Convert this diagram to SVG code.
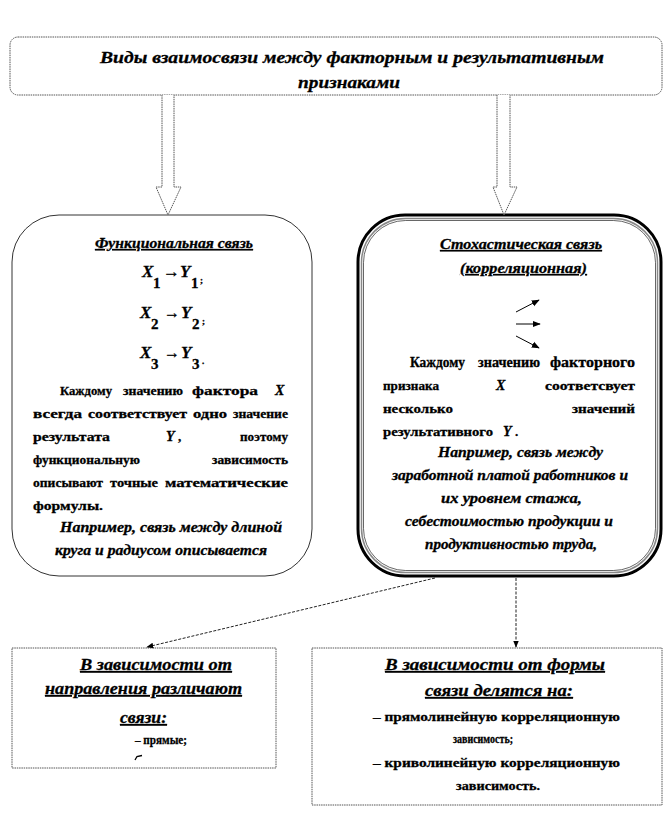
<svg xmlns="http://www.w3.org/2000/svg" width="672" height="816" viewBox="0 0 672 816">
<defs>
<style>
text{font-weight:bold;font-size:13px;fill:#000;stroke:#000;stroke-width:0.3}
.i{font-style:italic}
.u{text-decoration:underline}
.h{font-size:17px}
.f14{font-size:14px}
.xv{font-size:17px}
.sub{font-size:15px}
.arr{font-size:16px}
.semi{font-size:9px}
.box{fill:#fff;stroke:#555;stroke-width:1;stroke-dasharray:1.5 0.8}
.blk{fill:#fff;stroke:#555;stroke-width:1;stroke-dasharray:1.5 0.8}
.con{fill:none;stroke:#222;stroke-width:1;stroke-dasharray:3 1.5}
.sm{fill:none;stroke:#000;stroke-width:1}
</style>
<marker id="ah" viewBox="0 0 10 10" refX="9" refY="5" markerWidth="7" markerHeight="7" orient="auto" markerUnits="userSpaceOnUse">
<path d="M0,1 L10,5 L0,9 Z" fill="#000"/>
</marker>
<marker id="ahs" viewBox="0 0 10 10" refX="9" refY="5" markerWidth="8" markerHeight="8" orient="auto" markerUnits="userSpaceOnUse">
<path d="M0,1 L10,5 L0,9 Z" fill="#000"/>
</marker>
</defs>
<rect width="672" height="816" fill="#fff"/>
<g font-family="'Liberation Serif', 'DejaVu Serif', 'Times New Roman', serif">

<g id="title">
<rect class="box" x="10" y="37" width="652" height="58" rx="8"/>
<text class="i h" x="100" y="63" textLength="504" lengthAdjust="spacingAndGlyphs">Виды взаимосвязи между факторным и результативным</text>
<text class="i h" x="298" y="88" textLength="102" lengthAdjust="spacingAndGlyphs">признаками</text>
</g>

<g id="functional">
<rect x="12" y="215" width="300" height="361" rx="47" fill="#fff" stroke="#333" stroke-width="1"/>
<text class="i u f14" x="95" y="248" textLength="158" lengthAdjust="spacingAndGlyphs">Функциональная связь</text>
<text class="i xv" x="142" y="277">X</text><text class="sub" x="153" y="288">1</text>
<text class="arr" x="163" y="277" textLength="17" lengthAdjust="spacingAndGlyphs">→</text>
<text class="i xv" x="180" y="277">Y</text><text class="sub" x="191" y="288">1</text><text class="semi" x="200" y="283">;</text>
<text class="i xv" x="140" y="318">X</text><text class="sub" x="151" y="329">2</text>
<text class="arr" x="164" y="318" textLength="16" lengthAdjust="spacingAndGlyphs">→</text>
<text class="i xv" x="181" y="318">Y</text><text class="sub" x="192" y="329">2</text><text class="semi" x="202" y="324">;</text>
<text class="i xv" x="140" y="358">X</text><text class="sub" x="151" y="369">3</text>
<text class="arr" x="164" y="358" textLength="16" lengthAdjust="spacingAndGlyphs">→</text>
<text class="i xv" x="181" y="358">Y</text><text class="sub" x="192" y="369">3</text><text class="semi" x="202" y="364">.</text>

<text x="60" y="395" textLength="52" lengthAdjust="spacingAndGlyphs">Каждому</text>
<text x="123" y="395" textLength="60" lengthAdjust="spacingAndGlyphs">значению</text>
<text x="192" y="395" textLength="66" lengthAdjust="spacingAndGlyphs">фактора</text>
<text class="i f14" x="275" y="395">X</text>
<text x="33" y="418" textLength="49" lengthAdjust="spacingAndGlyphs">всегда</text>
<text x="88" y="418" textLength="99" lengthAdjust="spacingAndGlyphs">соответствует</text>
<text x="193" y="418" textLength="34" lengthAdjust="spacingAndGlyphs">одно</text>
<text x="233" y="418" textLength="55" lengthAdjust="spacingAndGlyphs">значение</text>
<text x="33" y="441" textLength="77" lengthAdjust="spacingAndGlyphs">результата</text>
<text class="i f14" x="166" y="441">Y</text><text x="178" y="441">,</text>
<text x="240" y="441" textLength="48" lengthAdjust="spacingAndGlyphs">поэтому</text>
<text x="33" y="464" textLength="107" lengthAdjust="spacingAndGlyphs">функциональную</text>
<text x="212" y="464" textLength="76" lengthAdjust="spacingAndGlyphs">зависимость</text>
<text x="33" y="487" textLength="70" lengthAdjust="spacingAndGlyphs">описывают</text>
<text x="110" y="487" textLength="48" lengthAdjust="spacingAndGlyphs">точные</text>
<text x="165" y="487" textLength="123" lengthAdjust="spacingAndGlyphs">математические</text>
<text x="33" y="510" textLength="70" lengthAdjust="spacingAndGlyphs">формулы.</text>
<text class="i f14" x="60" y="532" textLength="222" lengthAdjust="spacingAndGlyphs">Например, связь между длиной</text>
<text class="i f14" x="55" y="555" textLength="212" lengthAdjust="spacingAndGlyphs">круга и радиусом описывается</text>
</g>

<g id="stochastic">
<rect x="358" y="215" width="303" height="361" rx="47" fill="#fff" stroke="#000" stroke-width="3"/>
<rect x="361.5" y="218.5" width="296" height="354" rx="44" fill="none" stroke="#888" stroke-width="1.5"/>
<rect x="363.5" y="220.5" width="292" height="350" rx="42" fill="none" stroke="#000" stroke-width="0.6"/>
<text class="i u f14" x="440" y="249" textLength="162" lengthAdjust="spacingAndGlyphs">Стохастическая связь</text>
<text class="i u f14" x="460" y="273" textLength="127" lengthAdjust="spacingAndGlyphs">(корреляционная)</text>
<line class="sm" x1="516" y1="312" x2="539" y2="300" marker-end="url(#ahs)"/>
<line class="sm" x1="516" y1="324" x2="540" y2="324" marker-end="url(#ahs)"/>
<line class="sm" x1="516" y1="336" x2="539" y2="348" marker-end="url(#ahs)"/>
<text class="f14" x="410" y="367" textLength="55" lengthAdjust="spacingAndGlyphs">Каждому</text>
<text class="f14" x="478" y="367" textLength="62" lengthAdjust="spacingAndGlyphs">значению</text>
<text class="f14" x="550" y="367" textLength="85" lengthAdjust="spacingAndGlyphs">факторного</text>
<text x="383" y="390" textLength="56" lengthAdjust="spacingAndGlyphs">признака</text>
<text class="i f14" x="496" y="390">X</text>
<text x="545" y="390" textLength="90" lengthAdjust="spacingAndGlyphs">соответсвует</text>
<text x="383" y="413" textLength="70" lengthAdjust="spacingAndGlyphs">несколько</text>
<text x="572" y="413" textLength="63" lengthAdjust="spacingAndGlyphs">значений</text>
<text x="383" y="436" textLength="110" lengthAdjust="spacingAndGlyphs">результативного</text>
<text class="i f14" x="503" y="436">Y</text><text x="515" y="436">.</text>
<text class="i f14" x="438" y="457" textLength="165" lengthAdjust="spacingAndGlyphs">Например, связь между</text>
<text class="i f14" x="392" y="480" textLength="236" lengthAdjust="spacingAndGlyphs">заработной платой работников и</text>
<text class="i f14" x="441" y="503" textLength="141" lengthAdjust="spacingAndGlyphs">их уровнем стажа,</text>
<text class="i f14" x="405" y="526" textLength="208" lengthAdjust="spacingAndGlyphs">себестоимостью продукции и</text>
<text class="i f14" x="425" y="549" textLength="172" lengthAdjust="spacingAndGlyphs">продуктивностью труда,</text>
</g>

<g id="direction">
<rect class="box" x="12" y="648" width="264" height="120"/>
<text class="i u h" x="80" y="670" textLength="152" lengthAdjust="spacingAndGlyphs">В зависимости от</text>
<text class="i u h" x="45" y="694" textLength="197" lengthAdjust="spacingAndGlyphs">направления различают</text>
<text class="i u h" x="120" y="723" textLength="47" lengthAdjust="spacingAndGlyphs">связи:</text>
<text x="135" y="744" textLength="52" lengthAdjust="spacingAndGlyphs">– прямые;</text>
<path d="M135,760 L137,756.5 L142,755.5" fill="none" stroke="#000" stroke-width="1.3"/>
</g>

<g id="form">
<rect class="box" x="312" y="648" width="350" height="157"/>
<text class="i u h" x="385" y="670" textLength="220" lengthAdjust="spacingAndGlyphs">В зависимости от формы</text>
<text class="i u h" x="425" y="696" textLength="148" lengthAdjust="spacingAndGlyphs"> связи делятся на:</text>
<text x="373" y="721" textLength="247" lengthAdjust="spacingAndGlyphs">– прямолинейную корреляционную</text>
<text x="453" y="743" textLength="60" lengthAdjust="spacingAndGlyphs">зависимость;</text>
<text x="373" y="767" textLength="247" lengthAdjust="spacingAndGlyphs">– криволинейную корреляционную</text>
<text x="456" y="790" textLength="84" lengthAdjust="spacingAndGlyphs">зависимость.</text>
</g>
</g>

<g id="connectors">
<path class="blk" d="M162,95 L162,187 L156,187 L168,215 L181,187 L174,187 L174,95"/>
<path class="blk" d="M497,95 L497,187 L493,187 L504,215 L517,187 L510,187 L510,95"/>
<line class="con" x1="435" y1="578" x2="147" y2="647" marker-end="url(#ah)"/>
<line class="con" x1="516" y1="578" x2="516" y2="647" stroke-dasharray="1 1" marker-end="url(#ah)"/>
</g>
</svg>
